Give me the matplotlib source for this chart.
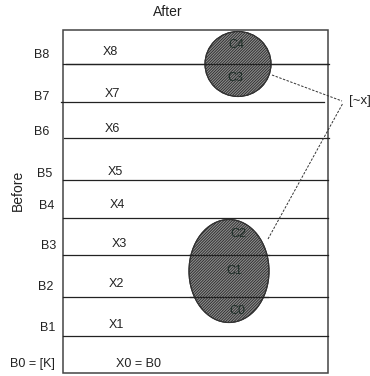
import matplotlib
matplotlib.use("Agg")
import matplotlib.pyplot as plt
from matplotlib.patches import Ellipse, Rectangle

plt.rcParams['font.family'] = ['Liberation Sans', 'DejaVu Sans']
plt.rcParams['hatch.linewidth'] = 0.6

# row labels, bottom to top
before_labels = ['B0 = [K]', 'B1', 'B2', 'B3', 'B4', 'B5', 'B6', 'B7', 'B8']
after_labels = ['X0 = B0', 'X1', 'X2', 'X3', 'X4', 'X5', 'X6', 'X7', 'X8']
cell_labels = ['C0', 'C1', 'C2', 'C3', 'C4']

# positions in pixels (y grows downwards)
row_lines = [336, 297, 255, 218, 180, 138, 102, 64]
line_x0 = [63, 63, 63, 63, 63, 64, 61, 66]
line_x1 = [328, 328, 328, 328, 328, 329, 324, 329]
b_xy = [(32, 364), (48, 328), (46, 287), (49, 246), (47, 206), (45, 174), (42, 132), (42, 97), (42, 55)]
x_xy = [(138, 364), (116, 325), (116, 284), (119, 244), (117, 205), (115, 172), (112, 129), (112, 94), (110, 52)]
c_xy = [(237, 311), (234, 271), (238, 234), (235, 78), (236, 45)]

fig = plt.figure(figsize=(3.70, 3.76), dpi=100)
ax = fig.add_axes([0, 0, 1, 1])
ax.set_xlim(0, 370)
ax.set_ylim(376, 0)
ax.axis('off')

# outer box
ax.add_patch(Rectangle((63, 30), 265, 343, fill=False, edgecolor='#444444', lw=1.1))

for y, a, b in zip(row_lines, line_x0, line_x1):
    ax.plot([a, b], [y, y], color='#222222', lw=0.9)

# hatched groups
for (cx, cy, w, h) in [(238, 64, 66, 65), (229, 271, 80, 103)]:
    ax.add_patch(Ellipse((cx, cy), w, h, facecolor='#8c8c8c', edgecolor='#2a2a2a',
                         hatch='////////////', lw=0.8, zorder=3))
    ax.add_patch(Ellipse((cx, cy), w, h, fill=False, edgecolor='#333333', lw=0.8, zorder=4))
ax.plot([63, 328], [64, 64], color='#222222', lw=0.9, zorder=5)
ax.plot([189, 269], [255, 255], color='#222222', lw=0.9, zorder=5)
ax.plot([190, 268], [297, 297], color='#222222', lw=0.9, zorder=5)

for lab, (x, y) in zip(before_labels, b_xy):
    ax.text(x, y, lab, fontsize=9, ha='center', va='center', color='#222222')
for lab, (x, y) in zip(after_labels, x_xy):
    ax.text(x, y, lab, fontsize=9, ha='center', va='center', color='#222222')
for lab, (x, y) in zip(cell_labels, c_xy):
    ax.text(x, y, lab, fontsize=9, ha='center', va='center', color='#1e2e28', zorder=6)

ax.text(168, 12, 'After', fontsize=10, ha='center', va='center', color='#222222')
ax.text(18, 190, 'Before', fontsize=10, ha='center', va='center', rotation=90, color='#222222')

# dashed pointers
ax.plot([272, 342], [75, 101], color='#333333', lw=0.7, ls=(0, (2.5, 1.5)))
ax.plot([268, 343], [239, 103], color='#333333', lw=0.7, ls=(0, (2.5, 1.5)))
ax.text(349, 101, '[~x]', fontsize=9.5, ha='left', va='center', color='#222222')

fig.savefig('out.png', dpi=100)
